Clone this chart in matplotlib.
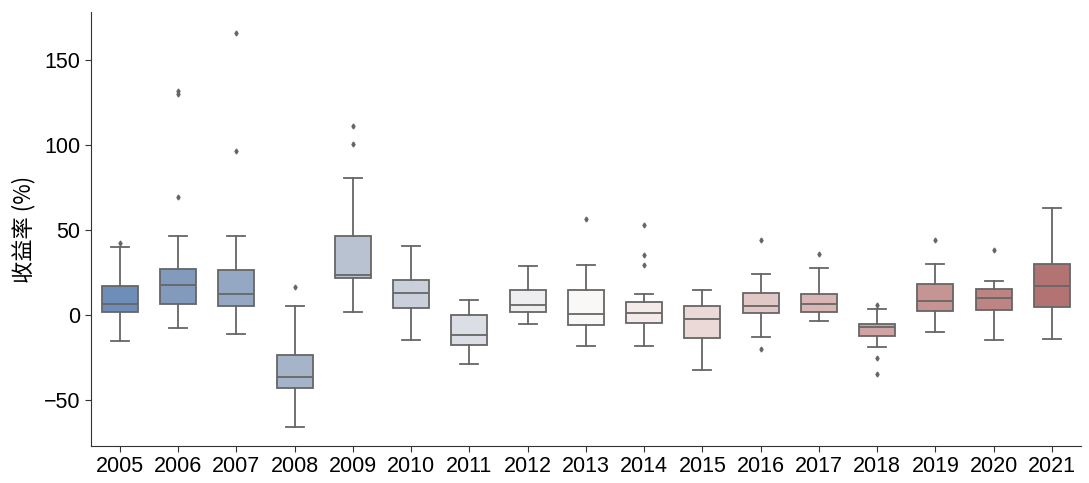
import matplotlib
matplotlib.use("Agg")
import matplotlib.pyplot as plt
import seaborn as sns

years = ["2005", "2006", "2007", "2008", "2009", "2010", "2011", "2012", "2013",
         "2014", "2015", "2016", "2017", "2018", "2019", "2020", "2021"]

# box statistics (%)
whis_lo = [-15.3, -7.6, -11.2, -65.6, 1.6, -14.7, -28.6, -5.5, -18.0,
           -18.4, -32.5, -12.7, -3.3, -18.8, -10.2, -14.7, -14.3]
q1 = [2.0, 6.7, 5.1, -43.1, 21.5, 3.9, -17.4, 1.8, -5.9,
      -4.5, -13.7, 1.0, 1.8, -12.5, 2.2, 3.1, 4.7]
median = [6.3, 17.4, 12.1, -36.4, 23.5, 12.7, -11.6, 5.9, 0.6,
          1.4, -2.3, 5.5, 6.7, -7.2, 8.4, 9.8, 17.2]
q3 = [17.2, 26.8, 26.4, -23.7, 46.4, 20.4, -0.2, 14.5, 14.5,
      7.6, 5.5, 12.7, 12.3, -5.5, 18.0, 15.5, 30.2]
whis_hi = [40.1, 46.4, 46.4, 5.3, 80.7, 40.7, 9.0, 28.8, 29.4,
           12.3, 14.7, 24.3, 27.8, 3.3, 29.8, 20.2, 63.2]
outliers = [[42.5], [132.0, 130.0, 69.5], [166.0, 96.3], [16.6], [111.0, 100.6],
            [], [], [], [56.4], [52.9, 35.4, 29.6], [], [44.4, -20.2], [35.6],
            [5.9, -25.1, -34.7], [43.9], [38.4], []]

stats = []
for i in range(len(years)):
    stats.append({"whislo": whis_lo[i], "q1": q1[i], "med": median[i],
                  "q3": q3[i], "whishi": whis_hi[i], "fliers": outliers[i],
                  "label": years[i]})

# vlag palette, desaturated like seaborn's boxplot, then lightened a touch
colors = []
for c in sns.color_palette("vlag", len(years)):
    c = sns.desaturate(c, 0.75)
    colors.append(tuple(0.85 * v + 0.15 for v in c))
line_gray = "#666666"

fig = plt.figure(figsize=(10.89, 4.83), dpi=100)
ax = fig.add_axes([0.0833, 0.0766, 0.9094, 0.898])

bp = ax.bxp(stats, positions=range(len(years)), widths=0.62, patch_artist=True,
            boxprops=dict(edgecolor=line_gray, linewidth=1.3),
            medianprops=dict(color=line_gray, linewidth=1.3),
            whiskerprops=dict(color=line_gray, linewidth=1.3),
            capprops=dict(color=line_gray, linewidth=1.3),
            flierprops=dict(marker="d", markersize=2.5, markerfacecolor=line_gray,
                            markeredgecolor=line_gray))
for patch, c in zip(bp["boxes"], colors):
    patch.set_facecolor(c)

ax.set_xlim(-0.5, len(years) - 0.5)
ax.set_ylim(-77, 178)
ax.set_yticks([-50, 0, 50, 100, 150])
ax.set_xticks(range(len(years)))
ax.set_xticklabels(years)
ax.tick_params(labelsize=15.5, color="#333333", length=4)
for lab in ax.get_xticklabels() + ax.get_yticklabels():
    lab.set_family(["Liberation Sans", "DejaVu Sans"])
ax.set_ylabel("收益率 (%)", fontsize=16, family=["Noto Sans CJK SC", "DejaVu Sans"],
              labelpad=6)
ax.spines["top"].set_visible(False)
ax.spines["right"].set_visible(False)
ax.spines["left"].set_color("#333333")
ax.spines["bottom"].set_color("#333333")

fig.savefig("out.png", dpi=100)
